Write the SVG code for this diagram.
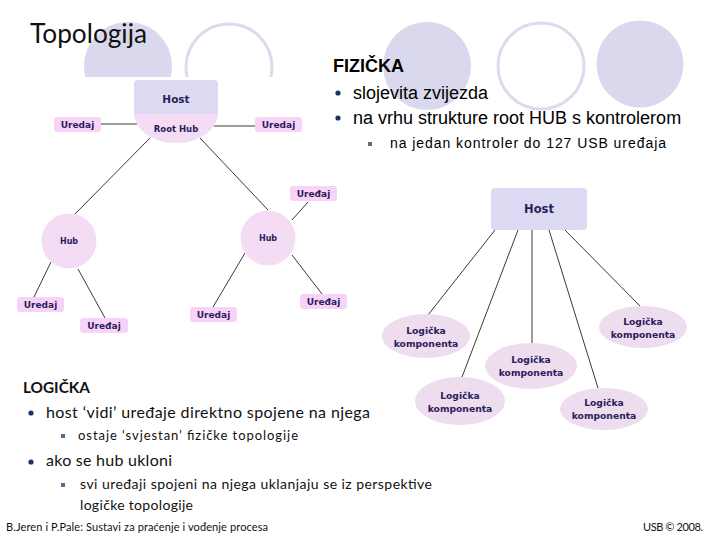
<svg xmlns="http://www.w3.org/2000/svg" width="720" height="540" viewBox="0 0 720 540">
<defs>
<style>
.deco-f{fill:#d9d8ec}
.deco-o{fill:none;stroke:#dcdbec;stroke-width:3}
.dev{fill:#f7d3f7}
.hub{fill:#f4dcf4}
.logic{fill:#eedcef}
.hostf{fill:#dcdaf3}
.nl{font-family:"DejaVu Sans",Verdana,sans-serif;font-weight:bold;fill:#2b1d5c;text-anchor:middle}
.conn line{stroke:#3a3a3a;stroke-width:1}
.cal{font-family:Lato,"Open Sans",sans-serif;fill:#111}
.ar{font-family:"Liberation Sans",Arial,sans-serif;fill:#000}
.dot{fill:#1c3560}
.sq{fill:#5a6a8c}
</style>
<clipPath id="topclip"><rect x="0" y="0" width="320" height="77"/></clipPath>
</defs>
<rect width="720" height="540" fill="#ffffff"/>

<!-- decorative circles -->
<g id="decoration">
<g clip-path="url(#topclip)">
<circle class="deco-f" cx="128" cy="66" r="44"/>
<circle class="deco-o" cx="229" cy="67" r="43"/>
</g>
<circle class="deco-f" cx="427" cy="66" r="44"/>
<circle class="deco-o" cx="541" cy="66" r="43"/>
<circle class="deco-f" cx="640" cy="64" r="43.5"/>
</g>

<text id="title" class="cal" x="30" y="43" font-size="26" textLength="117" lengthAdjust="spacingAndGlyphs">Topologija</text>

<!-- FIZIČKA text -->
<g id="fizicka-text">
<text class="ar" x="333" y="72" font-size="18" font-weight="bold">FIZIČKA</text>
<circle class="dot" cx="338" cy="93" r="2.6"/>
<text class="ar" x="353" y="99" font-size="18">slojevita zvijezda</text>
<circle class="dot" cx="338" cy="118" r="2.6"/>
<text class="ar" x="353" y="124" font-size="18">na vrhu strukture root HUB s kontrolerom</text>
<rect class="sq" x="368" y="142" width="4" height="4"/>
<text class="ar" x="390" y="148" font-size="14" fill="#222" textLength="276" lengthAdjust="spacing">na jedan kontroler do 127 USB uređaja</text>
</g>

<!-- connectors -->
<g id="connectors" class="conn">
<line x1="101" y1="124" x2="137" y2="124"/>
<line x1="214" y1="126" x2="255" y2="126"/>
<line x1="150" y1="138" x2="75" y2="214"/>
<line x1="200" y1="138" x2="268" y2="210"/>
<line x1="308" y1="202" x2="292" y2="220"/>
<line x1="51" y1="262" x2="34" y2="297"/>
<line x1="78" y1="269" x2="105" y2="318"/>
<line x1="245" y1="253" x2="213" y2="307"/>
<line x1="292" y1="255" x2="322" y2="294"/>
<line x1="495" y1="230" x2="428" y2="315"/>
<line x1="518" y1="230" x2="462" y2="377"/>
<line x1="532" y1="230" x2="532" y2="343"/>
<line x1="549" y1="230" x2="598" y2="388"/>
<line x1="565" y1="230" x2="640" y2="306"/>
</g>

<!-- physical topology nodes -->
<g id="host-roothub">
<path class="hub" d="M134,113 H218 A42,30 0 0 1 134,113 Z"/>
<path class="hostf" d="M134,84 Q134,80 138,80 H214 Q218,80 218,84 V114 H134 Z"/>
<text class="nl" x="176" y="103" font-size="10.5">Host</text>
<text class="nl" x="176" y="132" font-size="8.5">Root Hub</text>
</g>
<g id="dev-top-left">
<rect class="dev" x="54" y="117" width="47" height="15" rx="3"/>
<text class="nl" x="77.5" y="128" font-size="9">Uredaj</text>
</g>
<g id="dev-top-right">
<rect class="dev" x="255" y="117" width="47" height="15" rx="3"/>
<text class="nl" x="278.5" y="128" font-size="9">Uredaj</text>
</g>
<g id="hub-left">
<circle class="hub" cx="69" cy="241" r="27.5"/>
<text class="nl" x="69" y="244" font-size="8">Hub</text>
</g>
<g id="hub-right">
<circle class="hub" cx="268" cy="238" r="27.5"/>
<text class="nl" x="268" y="241" font-size="8">Hub</text>
</g>
<g id="dev-hubr-top">
<rect class="dev" x="290" y="186" width="47" height="15" rx="3"/>
<text class="nl" x="313.5" y="197" font-size="9">Uređaj</text>
</g>
<g id="dev-hubl-1">
<rect class="dev" x="17" y="297" width="47" height="15" rx="3"/>
<text class="nl" x="40.5" y="308" font-size="9">Uredaj</text>
</g>
<g id="dev-hubl-2">
<rect class="dev" x="80" y="318" width="48" height="15" rx="3"/>
<text class="nl" x="104" y="329" font-size="9">Uređaj</text>
</g>
<g id="dev-hubr-1">
<rect class="dev" x="190" y="307" width="47" height="15" rx="3"/>
<text class="nl" x="213.5" y="318" font-size="9">Uredaj</text>
</g>
<g id="dev-hubr-2">
<rect class="dev" x="300" y="294" width="47" height="15" rx="3"/>
<text class="nl" x="323.5" y="305" font-size="9">Uređaj</text>
</g>

<!-- logical topology nodes -->
<g id="logic-host">
<rect class="hostf" x="491" y="188" width="96" height="42" rx="4"/>
<text class="nl" x="539" y="213" font-size="11.5">Host</text>
</g>
<g id="logic-1">
<ellipse class="logic" cx="426" cy="336" rx="44" ry="22"/>
<text class="nl" x="426" y="334" font-size="9.2">Logička</text>
<text class="nl" x="426" y="347" font-size="9.2">komponenta</text>
</g>
<g id="logic-2">
<ellipse class="logic" cx="460" cy="401" rx="45" ry="24"/>
<text class="nl" x="460" y="399" font-size="9.2">Logička</text>
<text class="nl" x="460" y="412" font-size="9.2">komponenta</text>
</g>
<g id="logic-3">
<ellipse class="logic" cx="531" cy="366" rx="46" ry="23"/>
<text class="nl" x="531" y="363" font-size="9.2">Logička</text>
<text class="nl" x="531" y="376" font-size="9.2">komponenta</text>
</g>
<g id="logic-4">
<ellipse class="logic" cx="604" cy="409" rx="44" ry="21"/>
<text class="nl" x="604" y="406" font-size="9.2">Logička</text>
<text class="nl" x="604" y="419" font-size="9.2">komponenta</text>
</g>
<g id="logic-5">
<ellipse class="logic" cx="643" cy="327" rx="44" ry="21"/>
<text class="nl" x="643" y="325" font-size="9.2">Logička</text>
<text class="nl" x="643" y="338" font-size="9.2">komponenta</text>
</g>

<!-- LOGIČKA text -->
<g id="logicka-text">
<text class="cal" x="23" y="393" font-size="15.5" font-weight="bold" textLength="67" lengthAdjust="spacingAndGlyphs">LOGIČKA</text>
<circle class="dot" cx="31" cy="413" r="2.6"/>
<text class="cal" x="46" y="418" font-size="16" textLength="324" lengthAdjust="spacing">host ‘vidi’ uređaje direktno spojene na njega</text>
<rect class="sq" x="61" y="434" width="4" height="4"/>
<text class="cal" x="78" y="440" font-size="13" textLength="220" lengthAdjust="spacing">ostaje ‘svjestan’ fizičke topologije</text>
<circle class="dot" cx="31" cy="462" r="2.6"/>
<text class="cal" x="46" y="466" font-size="16" textLength="126" lengthAdjust="spacing">ako se hub ukloni</text>
<rect class="sq" x="61" y="483" width="4" height="4"/>
<text class="cal" x="80" y="489" font-size="14" textLength="352" lengthAdjust="spacing">svi uređaji spojeni na njega uklanjaju se iz perspektive</text>
<text class="cal" x="80" y="510" font-size="14" textLength="113" lengthAdjust="spacing">logičke topologije</text>
</g>

<!-- footer -->
<g id="footer">
<text class="cal" x="6" y="531" font-size="11" fill="#222" textLength="262" lengthAdjust="spacing">B.Jeren i P.Pale: Sustavi za praćenje i vođenje procesa</text>
<text class="cal" x="643" y="531" font-size="11" fill="#222" textLength="60" lengthAdjust="spacing">USB © 2008.</text>
</g>
</svg>
